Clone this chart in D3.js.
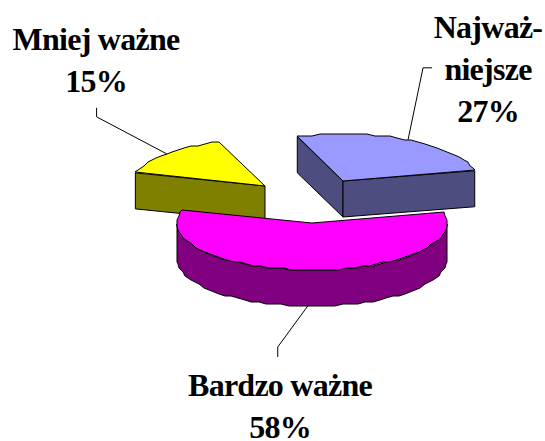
<!DOCTYPE html>
<html>
<head>
<meta charset="utf-8">
<script src="https://cdn.jsdelivr.net/npm/d3@7/dist/d3.min.js"></script>
<style>
html,body{margin:0;padding:0;background:#fff;}
svg{display:block;}
text{font-family:"Liberation Serif","Times New Roman",serif;font-weight:bold;fill:#000;}
</style>
</head>
<body>
<script>
// Data, in pie order starting from the upper-left edge of the blue slice
const categories = ["Najważniejsze", "Bardzo ważne", "Mniej ważne"];
const values = [27, 58, 15];
const percentLabels = ["27%", "58%", "15%"];
const labelLines = [["Najważ-", "niejsze"], ["Bardzo ważne"], ["Mniej ważne"]];
const topColors = ["#9999ff", "#ff00ff", "#ffff00"];
const sideColors = ["#4d4d80", "#800080", "#808000"];

// Layout
const W = 545, H = 441, RX = 135, RY = 47, DEPTH = 36;
const origins = [[343, 181], [312, 223], [265, 186]];       // exploded slice tips
const labelPos = [[488, 38], [280, 396], [96, 50]];          // first baseline
const lineGap = 42, fontSize = 32;
const leaderElbows = [[[15, -72], [24, -72]], [[-30, 41], [-30, 51]], [[-70, -37], [-70, -46]]];
const facesBySlice = [["start", "end"], [], ["start"]];
const drawOrder = [2, 0, 1];
const START = -19.8 * Math.PI / 180;

const pie = d3.pie().sort(null).startAngle(START).endAngle(START + 2 * Math.PI);
const arcs = pie(values);

const svg = d3.select("body").append("svg").attr("width", W).attr("height", H);
const line = d3.line();

const rim = (o, a, dy = 0) => [o[0] + RX * Math.sin(a), o[1] - RY * Math.cos(a) + dy];
function rimPoints(o, a0, a1, dy = 0) {
  const n = Math.max(2, Math.ceil((a1 - a0) * RX / 8));
  return d3.range(n + 1).map(i => {
    const p = rim(o, a0 + (a1 - a0) * i / n, dy);
    return [Math.round(p[0]), Math.round(p[1] / 2) * 2];
  });
}
const stroke = sel => sel.attr("stroke", "#000").attr("stroke-width", 1).attr("stroke-linejoin", "round");

drawOrder.forEach(i => {
  const d = arcs[i], o = origins[i];
  const g = svg.append("g").attr("data-name", categories[i]);
  const a0 = d.startAngle, a1 = d.endAngle;
  const down = p => [p[0], p[1] + DEPTH];

  // Flat cut faces visible from the viewer's side
  facesBySlice[i].forEach(k => {
    const p = rim(o, k === "start" ? a0 : a1);
    g.append("path")
      .attr("d", line([o, p, down(p), down(o)]) + "Z")
      .attr("fill", sideColors[i]).call(stroke);
  });

  // Curved outer wall (front half of the ellipse only)
  const wa0 = Math.max(a0, Math.PI / 2), wa1 = Math.min(a1, 3 * Math.PI / 2);
  if (wa1 > wa0) {
    const upper = rimPoints(o, wa0, wa1);
    const lower = rimPoints(o, wa0, wa1, DEPTH).reverse();
    g.append("path")
      .attr("d", line(upper.concat(lower)) + "Z")
      .attr("fill", sideColors[i]).call(stroke);
  }

  // Top face
  g.append("path")
    .attr("d", line([o].concat(rimPoints(o, a0, a1))) + "Z")
    .attr("fill", topColors[i]).call(stroke);

  // Leader line from the rim at the slice's middle angle
  const mid = (a0 + a1) / 2;
  const front = Math.cos(mid) < 0;
  const anchor = rim(o, mid, front ? DEPTH : 0);
  const pts = [anchor].concat(leaderElbows[i].map(e => [anchor[0] + e[0], anchor[1] + e[1]]));
  svg.append("path").attr("d", line(pts)).attr("fill", "none")
    .attr("stroke", "#000").attr("stroke-width", 1);
});

// Labels
labelLines.forEach((lines, i) => {
  lines.concat([percentLabels[i]]).forEach((t, j) => {
    svg.append("text")
      .attr("x", labelPos[i][0]).attr("y", labelPos[i][1] + j * lineGap)
      .attr("text-anchor", "middle").attr("font-size", fontSize)
      .attr("letter-spacing", "-0.75px")
      .text(t);
  });
});
</script>
</body>
</html>
